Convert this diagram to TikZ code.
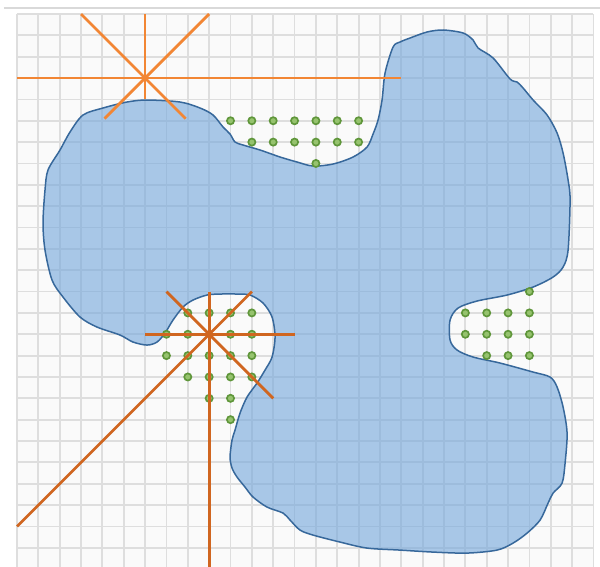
\documentclass[tikz,border=0pt]{standalone}
\usepackage{xcolor}
\usepackage{tikz}
\usetikzlibrary{positioning}
\definecolor{gridgray}{RGB}{222,222,222}
\definecolor{paper}{RGB}{250,250,250}
\definecolor{lakefill}{RGB}{118,168,220}
\definecolor{lakeedge}{RGB}{55,104,155}
\definecolor{rayorange}{RGB}{242,134,52}
\definecolor{raybrown}{RGB}{208,102,32}
\definecolor{ptgreen}{RGB}{150,195,110}
\definecolor{ptedge}{RGB}{95,150,58}

\begin{document}
\begin{tikzpicture}[x={(0.5cm,0)}, y={(0,-0.5cm)},
    gridline/.style={draw=gridgray, line width=1.2pt},
    topbar/.style={draw=gray!30, line width=1.3pt},
    lake/.style={draw=lakeedge, line width=1pt, fill=lakefill, fill opacity=0.62},
    pt/.style={circle, draw=ptedge, fill=ptgreen, line width=1.1pt,
               minimum size=4.8pt, inner sep=0pt},
    rayA/.style={draw=rayorange, line width=1.8pt},
    rayB/.style={draw=raybrown, line width=1.8pt}]

\useasboundingbox (-0.796,-0.656) rectangle (27.306,25.9);

%% Paper and grid (1 unit = one cell)
\fill[paper] (0,0) rectangle (27,26.5);
\draw[topbar] (-0.62,-0.28) -- (27.4,-0.28);
\foreach \i in {0,...,27}
    \draw[gridline] (\i,0) -- (\i,26.5);
\foreach \j in {0,...,26}
    \draw[gridline] (0,\j) -- (27,\j);

%% Blob, traced in screen pixels
\begin{scope}[shift={(-0.796,-0.656)}, scale=0.04684]
\draw[lake] plot[smooth cycle, tension=0.5] coordinates {
    (147,100) (180,102) (200,108) (213,115) (223,127) (230,134) (235,142)
    (243,145) (260,150) (280,157) (297,162) (313,166) (333,164) (353,157)
    (367,147) (373,134) (378,120) (382,100) (385,73) (393,47) (400,42)
    (410,38) (427,32) (443,30) (463,33) (473,40) (478,48) (493,58) (510,79)
    (517,82) (523,88) (533,100) (547,115) (557,133) (563,153) (568,180)
    (570,200) (568,250) (563,267) (553,277) (533,287) (507,295) (477,301)
    (458,308) (450,320) (450,340) (457,350) (473,357) (500,363) (533,372)
    (550,377) (557,387) (563,407) (567,433) (565,463) (562,483) (553,493)
    (548,503) (540,520) (527,533) (513,543) (497,550) (467,553) (433,552)
    (400,550) (367,548) (340,542) (313,535) (300,530) (290,520) (283,513)
    (267,507) (253,497) (245,487) (237,477) (232,468) (230,457) (232,440)
    (235,430) (240,413) (247,397) (257,383) (265,370) (272,357) (275,337)
    (272,317) (263,303) (250,295) (237,294) (220,294) (207,295) (193,300)
    (183,307) (173,320) (165,333) (157,342) (147,345) (133,342) (120,335)
    (97,327) (80,317) (63,297) (52,280) (45,250) (43,223) (45,190) (48,170)
    (60,150) (70,132) (83,115) (103,108) (127,102)};
\end{scope}

%% Sample points: row/first/last column
\foreach \r/\from/\to in {5/10/16, 6/11/16, 7/14/14,
                          14/8/11, 16/7/11, 17/8/11, 18/9/10, 19/10/10,
                          13/24/24, 14/21/24, 15/21/24, 16/22/24}
    \foreach \c in {\from,...,\to}
        \node[pt] (p-\c-\r) at (\c,\r) {};
\foreach \c in {7,8,10,11}
    \node[pt] (p-\c-15) at (\c,15) {};

%% Star A (upper left)
\coordinate (hubA) at (6,3);
\foreach \n/\ex/\ey in {w/0/3, e/18/3, n/6/0, s/6/4, nw/3/0, ne/9/0,
                        se/7.9/4.9, sw/4.1/4.9}{
    \coordinate (a-\n) at (\ex,\ey);
    \draw[rayA] (hubA) -- (a-\n);
}

%% Star B (lower left)
\coordinate (hubB) at (9,15);
\foreach \n/\ex/\ey in {w/6/15, e/13/15, n/9/13, s/9/26.5, nw/7/13, ne/11/13,
                        se/12/18, sw/0/24}{
    \coordinate (b-\n) at (\ex,\ey);
    \draw[rayB] (hubB) -- (b-\n);
}

\end{tikzpicture}
\end{document}
